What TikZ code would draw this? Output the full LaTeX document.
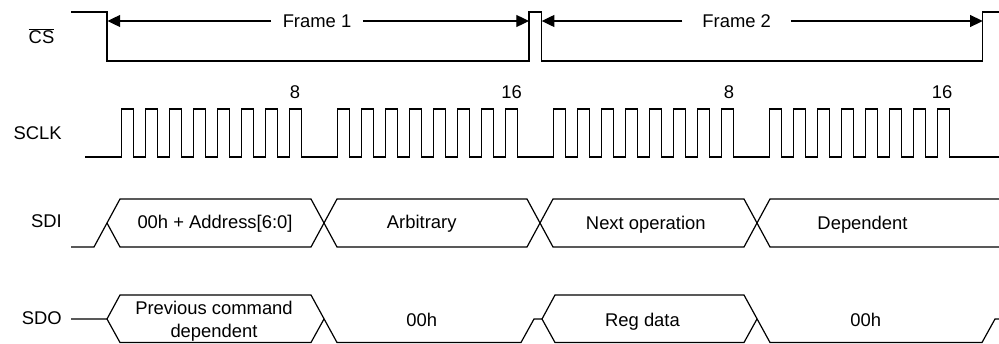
\documentclass[tikz,border=0pt]{standalone}
\usepackage{fontspec}
\setmainfont{Liberation Sans}
\usetikzlibrary{arrows.meta, positioning}

\begin{document}
\begin{tikzpicture}[
    x=0.75pt, y=-0.75pt,
    font=\fontsize{13.8}{17.3}\selectfont,
    wave/.style={line width=0.9pt, line join=miter},
    siglabel/.style={inner sep=0pt},
    celltext/.style={inner sep=0pt, align=center},
    framelabel/.style={inner ysep=0pt},
    span/.style={-{Triangle[length=9.5pt, width=9pt]}, line width=0.9pt}
]
    \useasboundingbox (0,0) rectangle (999,343);

    % Signal names
    \node[siglabel, anchor=base] (cs) at (41.5,43.5) {\(\overline{\mbox{CS}}\)};
    \node[siglabel, anchor=base east] (sclk) at (62,139.5) {SCLK};
    \node[siglabel, anchor=base east] (sdi) at (62,227) {SDI};
    \node[siglabel, anchor=base east] (sdo) at (62,324) {SDO};

    % Chip select
    \draw[wave] (71,12) -- (107,12) -- (107,61) -- (529,61) -- (529,12)
        -- (541.7,12) -- (541.7,61) -- (982.7,61) -- (982.7,12) -- (999,12);

    % Frame spans
    \coordinate (f1start) at (107.5,21);
    \coordinate (f1end) at (529,21);
    \coordinate (f2start) at (541.7,21);
    \coordinate (f2end) at (982.7,21);
    \node[framelabel, inner xsep=8.6pt] (frame1) at (317,21) {Frame 1};
    \node[framelabel, inner xsep=14.8pt] (frame2) at (736.7,21) {Frame 2};
    \draw[span] (frame1.west) -- (f1start);
    \draw[span] (frame1.east) -- (f1end);
    \draw[span] (frame2.west) -- (f2start);
    \draw[span] (frame2.east) -- (f2end);

    % Serial clock, four bytes of eight pulses
    \draw[wave] (85,157) \foreach \b in {121.5,337.5,553.5,769.5} {
        \foreach \k in {0,...,7} {
            -- (\b+24*\k,157) -- (\b+24*\k,109) -- (\b+24*\k+12,109) -- (\b+24*\k+12,157)
        }
    } -- (999,157);

    % Clock counts
    \node[anchor=base] (cnt1) at (295,98.5) {8};
    \node[anchor=base] (cnt2) at (511.5,98.5) {16};
    \node[anchor=base] (cnt3) at (729,98.5) {8};
    \node[anchor=base] (cnt4) at (942,98.5) {16};

    % SDI bus
    \draw[wave] (71,247) -- (94,247) -- (120,199) -- (311,199) -- (337,247) -- (527,247)
        -- (553,199) -- (744,199) -- (770,247) -- (999,247);
    \draw[wave] (107,223) -- (120,247) -- (311,247) -- (337,199) -- (527,199)
        -- (553,247) -- (744,247) -- (770,199) -- (999,199);
    \node[celltext, anchor=base] (addr) at (215,228.5) {00h + Address[6:0]};
    \node[celltext, anchor=base] (arb) at (421.7,228.5) {Arbitrary};
    \node[celltext, anchor=base] (nextop) at (645.8,229.5) {Next operation};
    \node[celltext, anchor=base] (dep) at (862.5,229) {Dependent};

    % SDO bus
    \draw[wave] (71,319) -- (107,319) -- (120,295) -- (311,295) -- (337,342.5) -- (521,342.5)
        -- (534,319) -- (542,319) -- (555,295) -- (744,295) -- (770,342.5) -- (982,342.5)
        -- (995,319) -- (999,319);
    \draw[wave] (107,319) -- (120,342.5) -- (311,342.5) -- (324,319);
    \draw[wave] (542,319) -- (555,342.5) -- (744,342.5) -- (757,319);
    \node[celltext] (prev) at (214,321) {Previous command\\dependent};
    \node[celltext, anchor=base] (zero1) at (421.7,326.5) {00h};
    \node[celltext, anchor=base] (regdata) at (642.5,326.5) {Reg data};
    \node[celltext, anchor=base] (zero2) at (865.8,326) {00h};
\end{tikzpicture}
\end{document}
